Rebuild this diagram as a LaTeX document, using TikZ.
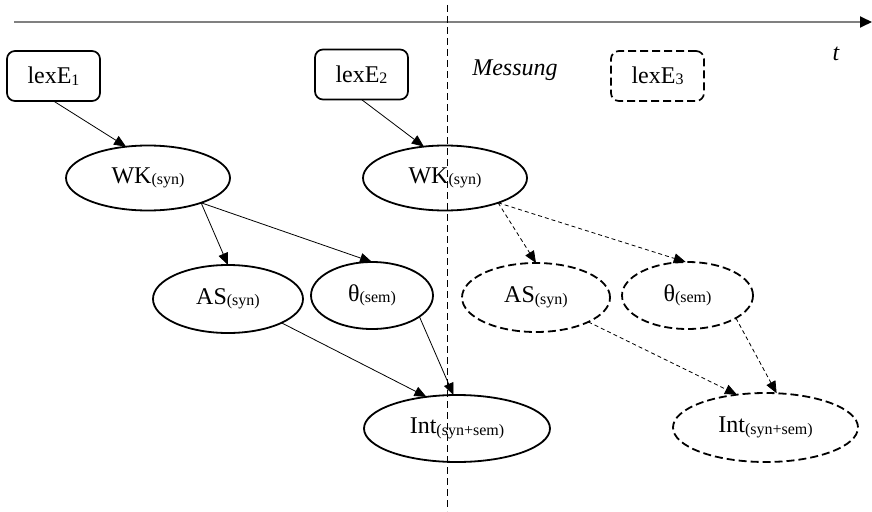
\documentclass[tikz,border=0pt]{standalone}
\usepackage{fontspec}
\setmainfont{Liberation Serif}
\usetikzlibrary{arrows.meta,shapes.geometric}
\newcommand{\sbs}[1]{\raisebox{-1.5pt}{\fontsize{16}{16}\selectfont #1}}
\tikzset{
  every node/.style={font=\fontsize{24}{24}\selectfont, inner sep=0pt, outer sep=0pt},
  lexbox/.style={draw, line width=1.7pt, rounded corners=8pt, minimum width=93pt, minimum height=50pt},
  lexboxd/.style={lexbox, dash pattern=on 8pt off 4pt},
  ell/.style={draw, ellipse, line width=1.8pt},
  elld/.style={ell, dash pattern=on 8pt off 4pt},
  con/.style={line width=0.8pt, -{Triangle[length=12pt,width=10pt]}},
  cond/.style={con, dash pattern=on 4pt off 3pt},
}
\begin{document}
\begin{tikzpicture}[x=1pt,y=-1pt]
\useasboundingbox (0,0) rectangle (872,511);
% timeline
\coordinate (t0) at (14,22);
\coordinate (t1) at (872,22);
\draw[gray, line width=1.8pt, -{Triangle[length=12pt,width=11pt,color=black]}] (t0) -- (t1);
\node[anchor=base, font=\fontsize{24}{24}\selectfont\itshape] (tl) at (836,60) {t};
% measurement line
\coordinate (m0) at (447,5);
\coordinate (m1) at (447,511);
\draw[line width=0.9pt, dash pattern=on 7pt off 4pt] (m0) -- (m1);
\node[anchor=base, font=\fontsize{24}{24}\selectfont\itshape] (mess) at (515,75) {Messung};
% lexical entries
\node[lexbox] (lexE1) at (53.5,76) {lexE\sbs{1}};
\node[lexbox] (lexE2) at (361.5,74.5) {lexE\sbs{2}};
\node[lexboxd] (lexE3) at (657.5,76) {lexE\sbs{3}};
% ellipses
\node[ell, minimum width=164pt, minimum height=65pt] (WK1) at (148,178) {WK\sbs{(syn)}};
\node[ell, minimum width=164pt, minimum height=65pt] (WK2) at (445,178) {WK\sbs{(syn)}};
\node[ell, minimum width=150pt, minimum height=68pt] (AS1) at (228,299) {AS\sbs{(syn)}};
\node[ell, minimum width=122pt, minimum height=67pt] (TH1) at (372,295.5) {θ\sbs{(sem)}};
\node[ell, minimum width=186pt, minimum height=67pt] (INT1) at (457,428.5) {Int\sbs{(syn+sem)}};
\node[elld, minimum width=148pt, minimum height=69pt] (AS2) at (536,297.5) {AS\sbs{(syn)}};
\node[elld, minimum width=131pt, minimum height=67pt] (TH2) at (687.5,295.5) {θ\sbs{(sem)}};
\node[elld, minimum width=185pt, minimum height=69pt] (INT2) at (765.5,427.5) {Int\sbs{(syn+sem)}};
% connectors
\draw[con] (lexE1.south) -- (WK1.125);
\draw[con] (lexE2.south) -- (WK2.124);
\draw[con] (WK1.-25) -- (AS1.north);
\draw[con] (WK1.-25) -- (TH1.north);
\draw[con] (AS1.-24) -- (INT1.134);
\draw[con] (TH1.-24) -- (INT1.96);
\draw[cond] (WK2.-25) -- (AS2.north);
\draw[cond] (WK2.-25) -- (TH2.93);
\draw[cond] (AS2.-25) -- (INT2.131);
\draw[cond] (TH2.-25) -- (INT2.72);
\end{tikzpicture}
\end{document}
